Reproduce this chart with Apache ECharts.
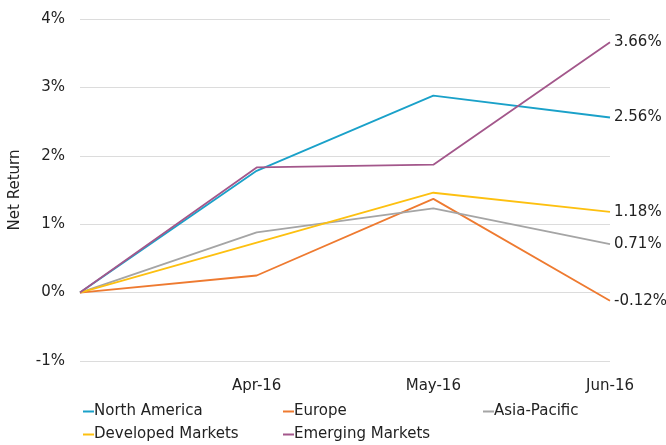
<!DOCTYPE html>
<html>
<head>
<meta charset="utf-8">
<script src="https://cdn.jsdelivr.net/npm/echarts@6/dist/echarts.min.js"></script>
<style>
  html, body { margin: 0; padding: 0; background: #fff; }
  #chart { width: 666px; height: 445px; }
</style>
</head>
<body>
<div id="chart"></div>
<script>
// data (percent)
const months = ["", "Apr-16", "May-16", "Jun-16"];
const northAmerica = [0, 1.78, 2.88, 2.56];
const europe = [0, 0.25, 1.37, -0.12];
const asiaPacific = [0, 0.88, 1.23, 0.71];
const developed = [0, 0.73, 1.46, 1.18];
const emerging = [0, 1.83, 1.87, 3.66];
const yTicks = [-1, 0, 1, 2, 3, 4];

const font = "DejaVu Sans";

function makeSeries(name, data, color) {
  return {
    name: name,
    type: "line",
    data: data,
    symbol: "none",
    lineStyle: { width: 1.8, color: color },
    itemStyle: { color: color },
    endLabel: {
      show: true,
      distance: 4,
      color: "#222",
      fontFamily: font,
      fontSize: 15,
      formatter: function (p) { return p.value.toFixed(2) + "%"; }
    }
  };
}

const myChart = echarts.init(document.getElementById("chart"));
myChart.setOption({
  animation: false,
  textStyle: { fontFamily: font },
  grid: { left: 80, right: 56, top: 19, bottom: 84, containLabel: false, outerBoundsMode: "none" },
  legend: {
    left: 83,
    top: 400,
    width: 600,
    itemGap: 0,
    itemWidth: 11,
    itemHeight: 2,
    icon: "rect",
    padding: 0,
    textStyle: {
      fontFamily: font,
      fontSize: 15,
      color: "#222",
      width: 189,
      lineHeight: 23,
      overflow: "truncate",
      padding: [0, 0, 0, -5]
    },
    data: ["North America", "Europe", "Asia-Pacific", "Developed Markets", "Emerging Markets"]
  },
  xAxis: {
    type: "category",
    boundaryGap: false,
    data: months,
    axisLine: { show: false },
    axisTick: { show: false },
    splitLine: { show: false },
    axisLabel: { interval: 0, margin: 18, color: "#222", fontFamily: font, fontSize: 15 }
  },
  yAxis: {
    type: "value",
    min: yTicks[0],
    max: yTicks[yTicks.length - 1],
    interval: 1,
    name: "Net Return",
    nameLocation: "middle",
    nameGap: 57,
    nameMoveOverlap: false,
    nameTextStyle: { color: "#222", fontFamily: font, fontSize: 15 },
    axisLine: { show: false },
    axisTick: { show: false },
    axisLabel: {
      margin: 15,
      align: "right",
      color: "#222",
      fontFamily: font,
      fontSize: 15,
      formatter: "{value}%"
    },
    splitLine: { lineStyle: { color: "#dcdcdc", width: 1 } }
  },
  series: [
    makeSeries("North America", northAmerica, "#1aa1c9"),
    makeSeries("Europe", europe, "#ee7a30"),
    makeSeries("Asia-Pacific", asiaPacific, "#a5a5a5"),
    makeSeries("Developed Markets", developed, "#fdc010"),
    makeSeries("Emerging Markets", emerging, "#a3578b")
  ]
});
window.onresize = function () {
  myChart.resize();
};
</script>
</body>
</html>
